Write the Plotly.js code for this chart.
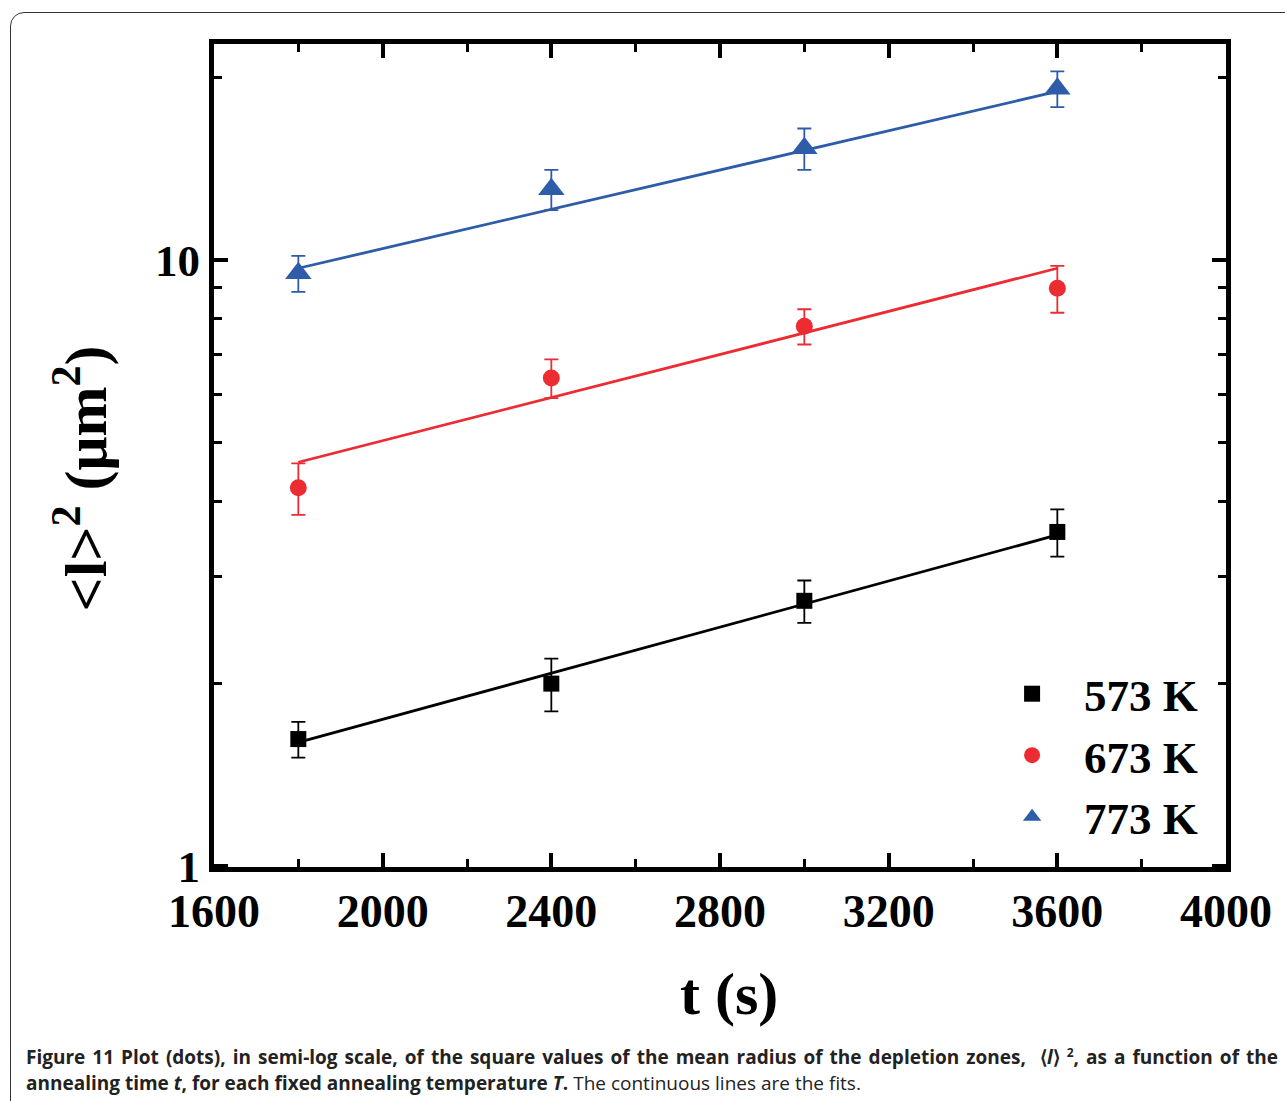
<!DOCTYPE html>
<html>
<head>
<meta charset="utf-8">
<script src="https://cdn.plot.ly/plotly-3.0.1.min.js"></script>
<style>
  html, body { margin: 0; padding: 0; background: #fff; width: 1285px; height: 1101px; overflow: hidden; }
  #frame { position: absolute; left: 10px; top: 12px; width: 1300px; height: 1110px;
           border: 1.5px solid #333; border-radius: 14px; box-sizing: border-box; }
  #chart { position: absolute; left: 0; top: 0; width: 1285px; height: 1101px; }
  .cap { position: absolute; left: 26px; width: 1252px; white-space: nowrap;
         font-family: "Open Sans", sans-serif; font-size: 19px; line-height: 24px; color: #222; }
  #cap1 { top: 1045px; text-align: justify; text-align-last: justify; white-space: normal; }
  #cap2 { top: 1071px; }
</style>
</head>
<body>
<div id="frame"></div>
<div id="chart"></div>
<div class="cap" id="cap1"><b>Figure 11 Plot (dots), in semi-log scale, of the square values of the mean radius of the depletion zones, &nbsp;⟨<i>l</i>⟩ <sup style="font-size:12px; line-height:0">2</sup>, as a function of the</b></div>
<div class="cap" id="cap2"><b>annealing time <i>t</i>, for each fixed annealing temperature <i>T</i>.</b> The continuous lines are the fits.</div>
<script>
// ---- data ----
const temps = ['573 K', '673 K', '773 K'];
const times = [1800, 2400, 3000, 3600];
const r573 = [1.62, 2.00, 2.74, 3.56];
const e573 = [0.11, 0.20, 0.22, 0.32];
const r673 = [4.21, 6.39, 7.78, 8.99];
const e673 = [0.41, 0.47, 0.52, 0.80];
const r773 = [9.52, 13.1, 15.3, 19.2];
const e773 = [0.65, 1.0, 1.2, 1.3];
const fitT = [1800, 3600];
const fit573 = [1.60, 3.52];
const fit673 = [4.64, 9.70];
const fit773 = [9.70, 19.0];
const xTicks = [1600, 2000, 2400, 2800, 3200, 3600, 4000];
const yTicks = [1, 10];
const yMinor = [2, 3, 4, 5, 6, 7, 8, 9, 20];
const xTitle = 't (s)';
const yTitle = '&lt;l&gt;<sup>2</sup> (μm<sup>2</sup>)';

const colors = ['#000000', '#ec2b33', '#2f5ca9'];
const symbols = ['square', 'circle', 'triangle-up'];
const sizes = [16, 17, 23];
const vals = [r573, r673, r773];
const errs = [e573, e673, e773];
const fits = [fit573, fit673, fit773];

const serif = 'Liberation Serif, Times New Roman, serif';
const traces = [];
for (let i = 0; i < 3; i++) {
  traces.push({
    x: fitT, y: fits[i], mode: 'lines', type: 'scatter', showlegend: false,
    line: { color: colors[i], width: 2.8 }, hoverinfo: 'skip'
  });
}
for (let i = 0; i < 3; i++) {
  traces.push({
    x: times, y: vals[i], mode: 'markers', type: 'scatter', name: temps[i],
    marker: { color: colors[i], symbol: symbols[i], size: sizes[i] },
    error_y: { type: 'data', array: errs[i], visible: true, color: colors[i], thickness: 1.8, width: 7 }
  });
}

const layout = {
  width: 1285, height: 1101,
  paper_bgcolor: 'rgba(0,0,0,0)', plot_bgcolor: 'rgba(0,0,0,0)',
  margin: { l: 213.5, r: 59, t: 43.5, b: 234 },
  font: { family: serif, color: '#000' },
  xaxis: {
    range: [1600, 4000], tickmode: 'array', tickvals: xTicks,
    ticktext: xTicks.map(String),
    ticks: 'inside', ticklen: 14, tickwidth: 4, tickcolor: '#000',
    minor: { dtick: 200, tick0: 1600, ticks: 'inside', ticklen: 8, tickwidth: 3, tickcolor: '#000' },
    showline: true, linewidth: 5, linecolor: '#000', mirror: 'ticks',
    showgrid: false, zeroline: false,
    tickfont: { family: serif, size: 46, color: '#000', weight: 'bold' }
  },
  yaxis: {
    type: 'log', range: [-0.0017, 1.357], tickmode: 'array', tickvals: yTicks,
    ticktext: yTicks.map(String),
    ticks: 'inside', ticklen: 14, tickwidth: 4, tickcolor: '#000',
    minor: { tickmode: 'array', tickvals: yMinor, ticks: 'inside', ticklen: 8, tickwidth: 3, tickcolor: '#000' },
    showline: true, linewidth: 5, linecolor: '#000', mirror: 'ticks',
    showgrid: false, zeroline: false,
    tickfont: { family: serif, size: 45, color: '#000', weight: 'bold' }
  },
  annotations: [
    { text: '<b>' + xTitle + '</b>', xref: 'paper', yref: 'paper', x: 0.509, y: -0.1545,
      xanchor: 'center', yanchor: 'middle', showarrow: false,
      font: { family: serif, size: 60, color: '#000' } },
    { text: '<b>' + yTitle + '</b>', xref: 'paper', yref: 'paper', x: -0.1319, y: 0.4714,
      xanchor: 'center', yanchor: 'middle', showarrow: false, textangle: -90,
      font: { family: serif, size: 60, color: '#000' } }
  ],
  legend: {
    x: 0.757, y: 0.254, xanchor: 'left', yanchor: 'top',
    bgcolor: 'rgba(0,0,0,0)', borderwidth: 0,
    font: { family: serif, size: 45, color: '#000', weight: 'bold' },
    itemwidth: 94, tracegroupgap: 0
  }
};

Plotly.newPlot('chart', traces, layout, { staticPlot: true, displayModeBar: false });
</script>
</body>
</html>
